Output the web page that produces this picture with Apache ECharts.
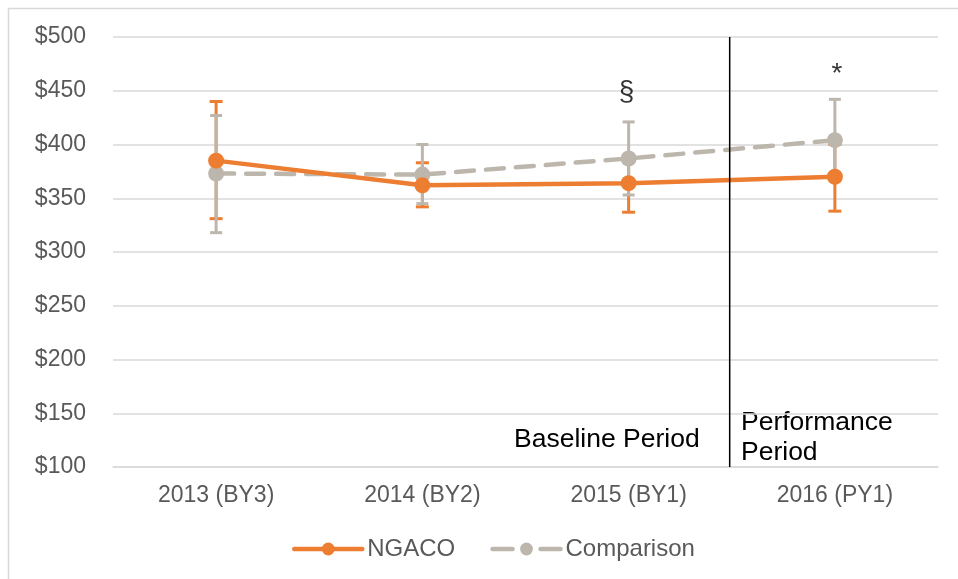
<!DOCTYPE html>
<html><head><meta charset="utf-8">
<script src="https://cdn.jsdelivr.net/npm/echarts@6/dist/echarts.min.js"></script>
<style>html,body{margin:0;padding:0;background:#fff}#c{width:958px;height:579px}</style>
</head><body><div id="c"></div>
<script>
const categories = ['2013 (BY3)', '2014 (BY2)', '2015 (BY1)', '2016 (PY1)'];
const ngaco = [385, 362, 364, 370];
const ngacoLow = [331, 342, 337, 338];
const ngacoHigh = [440, 383, 390, 400];
const comparison = [373, 372, 387, 404];
const compLow = [318, 345, 353, 367];
const compHigh = [427, 400, 421, 442];
const yTicks = [100, 500, 50];
const periodDivider = 2.49;
const annotations = [{x: 1.99, y: 449, t: '§'}, {x: 3.01, y: 465, t: '*'}];

const ORANGE = '#ED7D31', GRAY = '#BDB6AC', TXT = '#595959';
const font = 'Arial, "Liberation Sans", sans-serif';

function errData(lo, hi){ return lo.map((v,i)=>[i, v, hi[i]]); }
function errRender(color, cap, w){
  return function(params, api){
    const x = api.value(0);
    const a = api.coord([x, api.value(1)]);
    const b = api.coord([x, api.value(2)]);
    const st = {stroke: color, lineWidth: w};
    return {type:'group', children:[
      {type:'line', shape:{x1:a[0],y1:a[1],x2:b[0],y2:b[1]}, style:st},
      {type:'line', shape:{x1:a[0]-cap,y1:a[1],x2:a[0]+cap,y2:a[1]}, style:st},
      {type:'line', shape:{x1:b[0]-cap,y1:b[1],x2:b[0]+cap,y2:b[1]}, style:st}
    ]};
  };
}

const chart = echarts.init(document.getElementById('c'));
chart.setOption({
  animation: false,
  textStyle: {fontFamily: font},
  grid: {left: 113, right: 20, top: 37, bottom: 112},
  legend: {
    left: 287, top: 532, itemGap: 35, itemWidth: 68, itemHeight: 16,
    textStyle: {fontSize: 24, color: TXT, fontFamily: font},
    lineStyle: {width: 4.5},
    data: [
      {name: 'NGACO', lineStyle: {width: 4.5, type: 'solid', cap: 'round'}},
      {name: 'Comparison', lineStyle: {width: 4.5, type: [20, 28], cap: 'round'}}
    ]
  },
  xAxis: [
    {type: 'category', data: categories, boundaryGap: true,
     axisLine: {lineStyle: {color: '#d9d9d9', width: 1.5}}, axisTick: {show: false},
     axisLabel: {fontSize: 23, color: TXT, margin: 17, fontFamily: font}},
    {type: 'value', min: -0.5, max: 3.5, show: false}
  ],
  yAxis: {
    type: 'value', min: yTicks[0], max: yTicks[1], interval: yTicks[2],
    axisLine: {show: false}, axisTick: {show: false},
    splitLine: {lineStyle: {color: '#d9d9d9', width: 1.5}},
    axisLabel: {fontSize: 23, color: TXT, margin: 27, fontFamily: font, formatter: v => '$' + v}
  },
  series: [
    {type: 'custom', name: 'ngacoErr', z: 1, data: errData(ngacoLow, ngacoHigh),
     renderItem: errRender(ORANGE, 6.5, 3), encode: {x: 0, y: [1, 2]}},
    {type: 'custom', name: 'compErr', z: 2, data: errData(compLow, compHigh),
     renderItem: errRender(GRAY, 6, 3), encode: {x: 0, y: [1, 2]}},
    {type: 'line', name: 'Comparison', z: 3, data: comparison, symbol: 'circle', symbolSize: 16,
     itemStyle: {color: GRAY}, lineStyle: {color: GRAY, width: 4.5, type: [18, 12], cap: 'round'}},
    {type: 'line', name: 'NGACO', z: 4, data: ngaco, symbol: 'circle', symbolSize: 16,
     itemStyle: {color: ORANGE}, lineStyle: {color: ORANGE, width: 4.5}},
    {type: 'line', name: 'divider', xAxisIndex: 1, z: 5, symbol: 'none',
     data: [[periodDivider, yTicks[0]], [periodDivider, yTicks[1]]],
     lineStyle: {color: '#000', width: 1.5}},
    {type: 'scatter', name: 'notes', xAxisIndex: 1, z: 6, symbolSize: 0,
     data: annotations.map(a => ({value: [a.x, a.y], label: {show: true, formatter: a.t}})),
     label: {show: true, position: 'inside', fontSize: 28, color: '#000', fontFamily: font}}
  ],
  graphic: [
    {type: 'rect', shape: {x: 8.5, y: 8.5, width: 1000, height: 600}, style: {fill: 'none', stroke: '#d9d9d9', lineWidth: 1.5}, silent: true},
    {type: 'text', left: 514, top: 426, style: {text: 'Baseline Period', fontSize: 26.5, fill: '#000', fontFamily: font}},
    {type: 'text', left: 741, top: 408, style: {text: 'Performance\nPeriod', fontSize: 26.5, lineHeight: 30, fill: '#000', fontFamily: font}}
  ]
});
</script></body></html>
